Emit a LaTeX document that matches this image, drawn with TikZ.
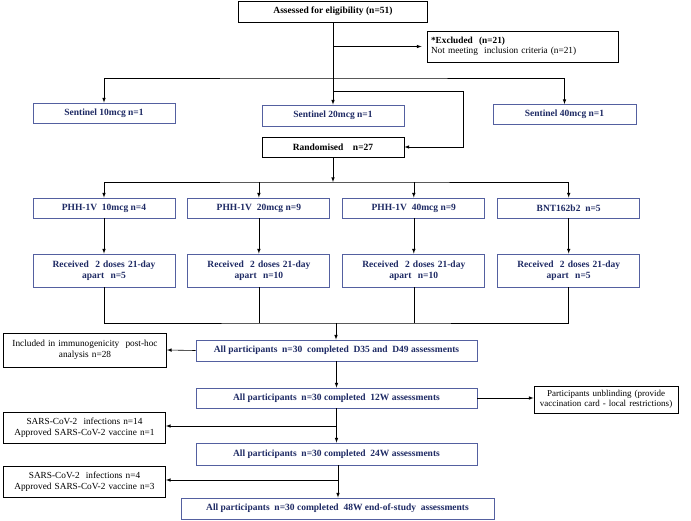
\documentclass[tikz,border=0pt]{standalone}
\usepackage{fontspec}
\setmainfont{Liberation Serif}
\usepackage{tikz}
\usetikzlibrary{arrows,chains,positioning}
\definecolor{boxblue}{RGB}{84,96,160}
\definecolor{navy}{RGB}{30,42,100}
\tikzset{blbox/.style={draw=boxblue, line width=0.9pt, rectangle, minimum width=142pt, minimum height=20pt, inner sep=2pt, text=navy, font=\bfseries\fontsize{9.5}{10.5}\selectfont}, bkbox/.style={draw, line width=0.9pt, rectangle, minimum height=20pt, inner sep=3pt, text=black, font=\fontsize{9.3}{10.5}\selectfont}, recbox/.style={blbox, minimum height=33pt, text width=136pt, align=center}, widebox/.style={blbox, minimum width=281pt, minimum height=21pt}, flow/.style={-latex, line width=0.6pt}, link/.style={line width=0.6pt}}

\begin{document}
\begin{tikzpicture}[x=1pt,y=-1pt]
    \useasboundingbox (0,0) rectangle (691,520);
    % top part
    \node[bkbox, font=\bfseries\fontsize{9.5}{10.5}\selectfont, minimum width=189pt, minimum height=21pt] (elig) at (333,11.5) {Assessed for eligibility (n=51)};
    \node[bkbox, minimum width=191pt, minimum height=31pt, text width=183pt, align=left] (excl) at (522.5,46.5) {\textbf{*Excluded\ \ (n=21)}\\Not meeting\ \ inclusion criteria (n=21)};
    \node[blbox] (sen1) at (104,113) {Sentinel 10mcg n=1};
    \node[blbox, minimum height=21pt] (sen2) at (333,115.5) {Sentinel 20mcg n=1};
    \node[blbox, minimum width=143pt] (sen3) at (564.5,114.5) {Sentinel 40mcg n=1};
    \node[bkbox, font=\bfseries\fontsize{9.5}{10.5}\selectfont, minimum width=142pt] (rand) at (333,147) {Randomised\quad n=27};
    % arms
    \begin{scope}[start chain=going right, node distance=12pt]
    \node[blbox,on chain] (phh1) at (104,208) {PHH-1V\ \ 10mcg n=4};
    \node[blbox,on chain] (phh2) {PHH-1V\ \ 20mcg n=9};
    \node[blbox,on chain] (phh3) {PHH-1V\ \ 40mcg n=9};
    \node[blbox,on chain] (phh4) {BNT162b2\ \ n=5};
    \end{scope}
    \begin{scope}[start chain=going right, node distance=12pt]
    \node[recbox,on chain] (rec1) at (104,270.5) {Received\ \ 2 doses 21-day\\apart\ \ n=5};
    \node[recbox,on chain] (rec2) {Received\ \ 2 doses 21-day\\apart\ \ n=10};
    \node[recbox,on chain] (rec3) {Received\ \ 2 doses 21-day\\apart\ \ n=10};
    \node[recbox,on chain] (rec4) {Received\ \ 2 doses 21-day\\apart\ \ n=5};
    \end{scope}
    % follow-up
    \node[widebox] (d35) at (336.5,350.5) {All participants\ \ n=30\ \ completed\ \ D35 and\ \ D49 assessments};
    \node[widebox, minimum height=20pt] (w12) at (336.5,398) {All participants\ \ n=30 completed\ \ 12W assessments};
    \node[widebox, minimum height=22pt] (w24) at (336.5,454) {All participants\ \ n=30 completed\ \ 24W assessments};
    \node[widebox, minimum width=313pt] (w48) at (337.5,508.5) {All participants\ \ n=30 completed\ \ 48W end-of-study\ \ assessments};
    \node[bkbox, minimum width=163pt, minimum height=34pt, text width=156pt, align=center] (imm) at (85,350) {Included in immunogenicity\ \ post-hoc\\analysis n=28};
    \node[bkbox, minimum width=144pt, minimum height=27pt, inner sep=1pt, text width=141pt, align=center, font=\fontsize{9}{10.5}\selectfont] (unb) at (606,399.5) {Participants unblinding (provide\\vaccination card - local restrictions)};
    \node[bkbox, minimum width=162pt, minimum height=31pt, text width=155pt, align=center] (inf1) at (84.5,427.5) {SARS-CoV-2\ \ infections n=14\\Approved SARS-CoV-2 vaccine n=1};
    \node[bkbox, minimum width=162pt, minimum height=31pt, text width=155pt, align=center] (inf2) at (84.5,481.5) {SARS-CoV-2\ \ infections n=4\\Approved SARS-CoV-2 vaccine n=3};
    % junctions
    \coordinate (h1) at (333,78);
    \coordinate (h2) at (333,91);
    \coordinate (k1) at (463,91);
    \coordinate (h3) at (333,182);
    \coordinate (h4) at (336,323);
    \coordinate (h5) at (336.5,426);
    \coordinate (h6) at (338,480);
    % connectors
    \draw[flow] (elig.south) -- (elig.south |- sen2.north);
    \draw[flow, shorten >=5pt] (elig.south |- excl.west) -- (excl.west);
    \draw[latex-latex, line width=0.6pt] (sen1.north) |- (h1) -| (sen3.north);
    \draw[flow] (h2) -- (k1) |- (rand.east);
    \draw[flow] (rand) -- (h3);
    \draw[latex-latex, line width=0.6pt] (phh1.north) |- (h3) -| (phh4.north);
    \draw[flow] (h3 -| phh2.north) -- (phh2.north);
    \draw[flow] (h3 -| phh3.north) -- (phh3.north);
    \draw[flow] (phh1) -- (rec1);
    \draw[flow] (phh2) -- (rec2);
    \draw[flow] (phh3) -- (rec3);
    \draw[flow] (phh4) -- (rec4);
    \draw[link] (rec1.south) |- (h4) -| (rec4.south);
    \draw[link] (rec2.south) -- (rec2.south |- h4);
    \draw[link] (rec3.south) -- (rec3.south |- h4);
    \draw[flow] (h4) -- (h4 |- d35.north);
    \draw[flow] (d35.west) -- (imm.east);
    \draw[flow] (d35) -- (w12);
    \draw[flow] (w12.east) -- (w12.east -| unb.west);
    \draw[flow] (w12) -- (w24);
    \draw[flow] (h5) -- (h5 -| inf1.east);
    \draw[flow] (w24.south -| h6) -- (w48.north -| h6);
    \draw[flow] (h6) -- (h6 -| inf2.east);
\end{tikzpicture}
\end{document}
